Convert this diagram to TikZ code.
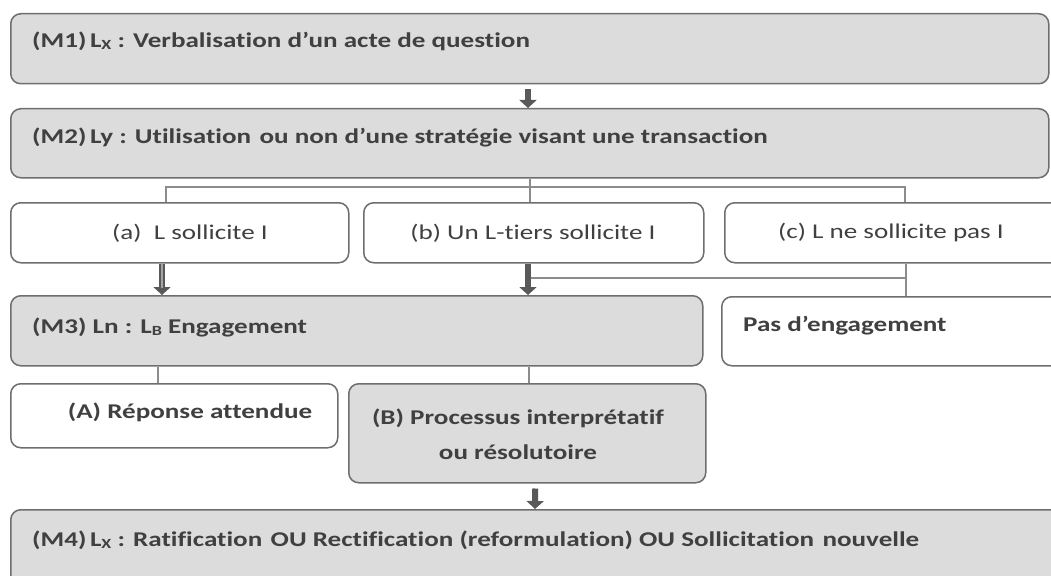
\documentclass[tikz,border=0pt]{standalone}
\usepackage{fontspec}
\setmainfont{Carlito}[FakeStretch=1.29, Ligatures=NoCommon]
\usetikzlibrary{arrows.meta,calc}
\definecolor{boxline}{HTML}{6E6E6E}
\definecolor{boxfill}{HTML}{DCDCDC}
\definecolor{txt}{HTML}{404040}
\definecolor{conn}{HTML}{8C8C8C}
\definecolor{arr}{HTML}{595959}
\newcommand{\subX}[1]{\raisebox{-0.25ex}{\fontsize{14}{14}\selectfont #1}}
\newcommand{\wsp}{\hspace{0.4em}}
\tikzset{
  basebox/.style={draw=boxline, line width=1.5pt, rounded corners=10pt, anchor=north west, inner sep=0pt},
  graybox/.style={basebox, fill=boxfill},
  whitebox/.style={basebox, fill=white},
  bt/.style={text=txt, font=\fontsize{21}{26}\selectfont\bfseries, inner sep=0pt},
  rt/.style={text=txt, font=\fontsize{21}{26}\selectfont, inner sep=0pt},
  conline/.style={draw=conn, line width=2pt},
  bigarrow/.style={draw=arr, line width=6pt, -{Triangle[length=8pt,width=17pt]}},
  shaftlight/.style={draw=arr!55!white, line width=2pt},
}
\begin{document}
\begin{tikzpicture}[x=1pt,y=-1pt]
\useasboundingbox (0,0) rectangle (1051,575);
% boxes
\node[graybox, minimum width=1038pt, minimum height=70pt] (m1) at (10,13) {};
\node[graybox, minimum width=1038pt, minimum height=69pt] (m2) at (10,108) {};
\node[whitebox, minimum width=338pt, minimum height=60pt] (a) at (10,202) {};
\node[whitebox, minimum width=340pt, minimum height=60pt] (b) at (363,202) {};
\node[whitebox, minimum width=340pt, minimum height=60pt] (c) at (724,202) {};
\node[graybox, minimum width=692pt, minimum height=70pt] (m3) at (10,295) {};
\node[whitebox, minimum width=345pt, minimum height=69pt] (pas) at (721,296) {};
\node[whitebox, minimum width=327pt, minimum height=64pt] (A) at (10,383) {};
\node[graybox, minimum width=357pt, minimum height=99pt] (B) at (348,383) {};
\node[graybox, minimum width=1055pt, minimum height=85pt] (m4) at (10,509) {};
% texts
\node[bt, anchor=west] (m1t) at (32,41) {(M1)\,L\subX{X} : Verbalisation d’un acte de question};
\node[bt, anchor=west] (m2t) at (32,137) {(M2)\,Ly : Utilisation\wsp ou non d’une stratégie visant une transaction};
\node[rt] (at) at (190,233) {(a)\ \ L sollicite I};
\node[rt] (bt) at (533,233) {(b) Un L-tiers sollicite I};
\node[rt] (ct) at (891,233) {(c) L ne sollicite pas I};
\node[bt, anchor=west] (m3t) at (32,327) {(M3) Ln : L\subX{B} Engagement};
\node[bt, anchor=west] (past) at (743,326) {Pas d’engagement};
\node[bt] (At) at (190,412) {(A) Réponse attendue};
\node[bt, align=center, font=\fontsize{21}{35}\selectfont\bfseries] (Bt) at (518,434) {(B) Processus interprétatif\\ou résolutoire};
\node[bt, anchor=west] (m4t) at (32,540) {(M4)\,L\subX{X} : Ratification\wsp OU Rectification (reformulation) OU Sollicitation\wsp nouvelle};
% connectors
\coordinate (j1) at ($(m2.south west)+(520,10)$);
\draw[conline] (m2.south -| j1) -- (b.north -| j1);
\draw[conline] (a.north -| 166,0) -- ++(0,-15) -| (c.north -| 905,0);
\draw[bigarrow] ($(m1.south west)+(518,5)$) -- (m2.north -| 528,0);
\draw[bigarrow] (a.south -| 162,0) -- (m3.north -| 162,0);
\draw[shaftlight] (a.south -| 162,0) -- ++(0,24);
\draw[bigarrow] (b.south -| 528,0) -- (m3.north -| 528,0);
\draw[conline] (c.south -| 906,0) -- (pas.north -| 906,0);
\draw[conline] (531,278) -- (906,278);
\draw[conline] (m3.south -| 158,0) -- (A.north -| 158,0);
\draw[conline] (m3.south -| 529,0) -- (B.north -| 529,0);
\draw[bigarrow] ($(B.south)+(8,5)$) -- (m4.north -| 535,0);
\end{tikzpicture}
\end{document}
